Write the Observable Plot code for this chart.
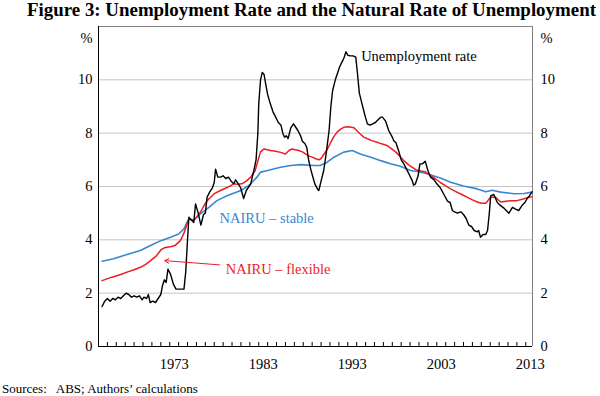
<!DOCTYPE html>
<html><head><meta charset="utf-8">
<script src="https://cdn.jsdelivr.net/npm/d3@7"></script>
<script src="https://cdn.jsdelivr.net/npm/@observablehq/plot@0.6"></script>
<style>
body{margin:0;background:#fff;font-family:"Liberation Serif","Times New Roman",serif;}
#wrap{position:relative;width:600px;height:396px;overflow:hidden;background:#fff;}
#title{position:absolute;left:27px;top:0;font-weight:bold;font-size:18.9px;line-height:20px;white-space:nowrap;color:#000;}
#chart{position:absolute;left:0;top:22px;}
#src{position:absolute;left:2px;top:381px;font-size:13px;white-space:pre;color:#000;}
</style></head><body>
<div id="wrap">
<div id="title">Figure 3: Unemployment Rate and the Natural Rate of Unemployment</div>
<div id="chart"></div>
<div id="src">Sources:   ABS; Authors’ calculations</div>
</div>
<script>
// Unemployment rate (year, %)
const urYears = [1965.4,1965.7,1966.0,1966.3,1966.6,1966.9,1967.2,1967.5,1967.8,1968.1,1968.4,1968.7,1969.0,1969.3,1969.6,1969.9,1970.1,1970.4,1970.6,1970.8,1971.1,1971.4,1971.7,1972.0,1972.2,1972.4,1972.6,1972.8,1973.1,1973.4,1973.7,1974.0,1974.3,1974.6,1974.8,1975.0,1975.15,1975.4,1975.7,1975.9,1976.2,1976.5,1976.8,1977.0,1977.2,1977.5,1977.8,1978.0,1978.15,1978.4,1978.7,1979.0,1979.3,1979.6,1979.9,1980.2,1980.4,1980.7,1980.95,1981.3,1981.6,1981.9,1982.1,1982.45,1982.7,1982.9,1983.0,1983.2,1983.4,1983.6,1983.8,1984.0,1984.3,1984.6,1984.9,1985.2,1985.5,1985.7,1985.9,1986.1,1986.3,1986.6,1986.9,1987.1,1987.4,1987.7,1987.9,1988.2,1988.4,1988.6,1988.8,1989.0,1989.3,1989.6,1989.75,1990.0,1990.3,1990.6,1990.9,1991.1,1991.3,1991.6,1991.8,1992.1,1992.4,1992.6,1992.8,1993.0,1993.3,1993.6,1993.9,1994.1,1994.3,1994.6,1994.9,1995.2,1995.5,1995.8,1996.1,1996.4,1996.7,1996.9,1997.25,1997.6,1998.0,1998.2,1998.4,1998.75,1999.0,1999.3,1999.6,1999.9,2000.2,2000.4,2000.6,2000.9,2001.1,2001.4,2001.7,2002.0,2002.3,2002.7,2003.0,2003.4,2003.8,2004.2,2004.5,2004.75,2005.0,2005.3,2005.7,2006.0,2006.3,2006.6,2006.9,2007.2,2007.55,2007.7,2007.9,2008.2,2008.5,2008.7,2008.9,2009.05,2009.4,2009.8,2010.1,2010.5,2010.8,2011.1,2011.5,2011.85,2012.2,2012.6,2012.9,2013.15,2013.4,2013.7];
const urValues = [1.5,1.7,1.8,1.7,1.8,1.75,1.85,1.8,1.9,2.0,1.95,1.85,1.9,1.85,1.9,1.75,1.85,1.8,1.95,1.65,1.7,1.65,1.8,1.95,2.3,2.5,2.4,2.9,2.7,2.35,2.15,2.15,2.15,2.15,2.8,4.0,4.85,4.75,4.65,5.35,5.0,4.55,4.95,5.0,5.6,5.8,5.95,6.15,6.65,6.35,6.35,6.4,6.3,6.35,6.2,6.1,6.25,6.1,5.97,5.55,5.85,6.0,6.1,6.6,7.0,8.0,9.1,10.0,10.28,10.2,9.8,9.45,9.1,8.8,8.6,8.4,8.3,8.0,7.85,7.9,7.8,8.2,8.35,8.25,8.1,7.9,7.7,7.6,7.45,7.0,6.7,6.45,6.1,5.9,5.85,6.2,6.6,7.3,8.1,9.0,9.6,10.0,10.2,10.5,10.7,10.85,11.05,10.92,10.9,10.9,10.85,10.2,9.5,9.1,8.7,8.35,8.3,8.35,8.4,8.5,8.6,8.6,8.45,8.1,7.85,7.7,7.65,7.3,7.0,6.85,6.65,6.45,6.25,6.05,6.1,6.4,6.85,6.85,6.95,6.6,6.35,6.25,6.1,5.95,5.7,5.45,5.4,5.1,5.05,5.0,5.05,4.95,4.8,4.55,4.5,4.35,4.3,4.35,4.1,4.2,4.2,4.35,5.0,5.65,5.7,5.4,5.3,5.2,5.1,5.0,5.22,5.15,5.1,5.3,5.4,5.55,5.65,5.8];

// NAIRU – flexible
const flexYears = [1965.4,1966.5,1967.5,1968.2,1969.0,1969.7,1970.3,1970.85,1971.5,1972.0,1972.4,1972.7,1973.2,1973.65,1974.2,1974.6,1974.9,1975.15,1975.7,1976.0,1976.45,1976.8,1977.2,1977.6,1978.0,1978.7,1979.5,1980.2,1980.6,1981.1,1981.6,1982.1,1982.6,1982.9,1983.2,1983.6,1984.0,1984.3,1984.9,1985.45,1986.0,1986.4,1986.75,1987.1,1987.5,1987.9,1988.25,1988.6,1989.0,1989.4,1989.75,1990.0,1990.3,1990.7,1991.1,1991.4,1991.8,1992.2,1992.55,1993.0,1993.4,1993.7,1994.0,1994.4,1994.8,1995.2,1995.7,1996.3,1996.8,1997.4,1997.9,1998.4,1998.9,1999.3,1999.8,2000.25,2000.7,2001.2,2001.7,2002.3,2002.8,2003.4,2004.0,2004.55,2005.2,2005.8,2006.4,2007.0,2007.55,2008.0,2008.5,2008.8,2009.05,2009.6,2009.9,2010.2,2010.8,2011.3,2012.0,2012.8,2013.2,2013.7];
const flexValues = [2.47,2.6,2.7,2.79,2.88,2.97,3.08,3.22,3.4,3.62,3.7,3.72,3.75,3.8,3.97,4.25,4.55,4.78,4.72,4.85,5.04,5.25,5.47,5.6,5.73,5.85,5.97,6.1,6.08,6.1,6.2,6.35,6.6,6.95,7.3,7.41,7.38,7.35,7.32,7.28,7.22,7.35,7.41,7.38,7.35,7.3,7.22,7.15,7.1,7.04,7.0,7.05,7.2,7.4,7.66,7.85,8.04,8.15,8.22,8.24,8.22,8.2,8.1,7.97,7.85,7.79,7.72,7.66,7.6,7.54,7.42,7.29,7.12,6.97,6.82,6.72,6.62,6.58,6.55,6.41,6.3,6.15,6.02,5.91,5.8,5.7,5.6,5.5,5.42,5.37,5.37,5.5,5.6,5.6,5.5,5.42,5.45,5.47,5.47,5.54,5.58,5.62];

// NAIRU – stable
const stableYears = [1965.4,1966.7,1968.2,1969.7,1970.85,1972.0,1973.1,1974.0,1974.6,1975.0,1975.15,1975.7,1976.45,1977.4,1978.3,1979.5,1981.0,1981.9,1982.8,1983.2,1984.0,1985.45,1986.6,1987.7,1988.5,1989.2,1989.9,1990.7,1991.45,1992.55,1993.5,1994.4,1995.6,1996.7,1997.8,1998.9,2000.05,2001.0,2001.9,2003.4,2004.55,2006.0,2007.55,2008.5,2009.2,2010.2,2011.7,2012.8,2013.7];
const stableValues = [3.2,3.29,3.45,3.6,3.79,3.97,4.1,4.22,4.41,4.7,4.79,4.74,4.97,5.22,5.47,5.66,5.85,6.04,6.35,6.54,6.6,6.72,6.79,6.82,6.8,6.79,6.79,6.91,7.1,7.29,7.35,7.22,7.1,6.97,6.85,6.76,6.6,6.55,6.48,6.32,6.16,6.02,5.91,5.8,5.86,5.79,5.73,5.74,5.79];

const xDomain = [1965, 2013.75];
const yDomain = [0, 12];
const yTicks = [0, 2, 4, 6, 8, 10];
const gridValues = [2, 4, 6, 8, 10];
const labelYears = [1973, 1983, 1993, 2003, 2013];
const minorYears = d3.range(1966, 2014);

const labels = [
  {text: "Unemployment rate", x: 1994.5, y: 10.87, color: "#000000"},
  {text: "NAIRU – stable", x: 1978.6, y: 4.81, color: "#3a87d0"},
  {text: "NAIRU – flexible", x: 1979.3, y: 2.91, color: "#ee1c25"}
];
const arrowData = [{x1: 1978.6, y1: 3.06, x2: 1972.45, y2: 3.22}];

const toRows = (xs, vs) => xs.map((x, i) => ({x, v: vs[i]}));
const ur = toRows(urYears, urValues);
const flex = toRows(flexYears, flexValues);
const stable = toRows(stableYears, stableValues);

const RED = "#ee1c25", BLUE = "#3a87d0";
const font = '"Liberation Serif","Times New Roman",serif';

const chart = Plot.plot({
  width: 600, height: 352,
  marginLeft: 98, marginRight: 68, marginTop: 4, marginBottom: 28,
  x: {domain: xDomain, axis: null},
  y: {domain: yDomain, axis: null},
  style: {fontFamily: font, fontSize: "14.5px", color: "#000", background: "white", overflow: "visible"},
  marks: [
    Plot.ruleY(gridValues, {stroke: "#c4c4c4", strokeWidth: 1}),
    Plot.ruleY([yDomain[1]], {stroke: "#808080", strokeWidth: 1}),
    Plot.ruleX([xDomain[1]], {stroke: "#808080", strokeWidth: 1}),
    Plot.ruleX(minorYears, {stroke: "#000", strokeWidth: 1, insetTop: 316}),
    Plot.line(stable, {x: "x", y: "v", stroke: BLUE, strokeWidth: 1.6}),
    Plot.line(flex, {x: "x", y: "v", stroke: RED, strokeWidth: 1.5}),
    Plot.line(ur, {x: "x", y: "v", stroke: "#000", strokeWidth: 1.4}),
    Plot.ruleX([xDomain[0]], {stroke: "#000", strokeWidth: 1}),
    Plot.ruleY([yDomain[0]], {stroke: "#000", strokeWidth: 1}),
    Plot.axisY({anchor: "left", ticks: yTicks, tickSize: 0, tickPadding: 6, label: null, fontSize: 14.5}),
    Plot.axisY({anchor: "right", ticks: yTicks, tickSize: 0, tickPadding: 8, label: null, fontSize: 14.5}),
    Plot.axisX({anchor: "bottom", ticks: labelYears.map(y => y + 0.5), tickFormat: d => String(Math.floor(d)), tickSize: 0, tickPadding: 12, label: null, fontSize: 14.5}),
    Plot.text(["%"], {frameAnchor: "top-left", dx: -6, dy: 6, textAnchor: "end", text: d => d, fontSize: 14.5}),
    Plot.text(["%"], {frameAnchor: "top-right", dx: 8, dy: 6, textAnchor: "start", text: d => d, fontSize: 14.5}),
    Plot.text(labels, {x: "x", y: "y", text: "text", fill: d => d.color, textAnchor: "start", fontSize: 14.5}),
    Plot.arrow(arrowData, {x1: "x1", y1: "y1", x2: "x2", y2: "y2", stroke: RED, strokeWidth: 1, headLength: 7})
  ]
});
document.getElementById("chart").appendChild(chart);
</script>
</body></html>
